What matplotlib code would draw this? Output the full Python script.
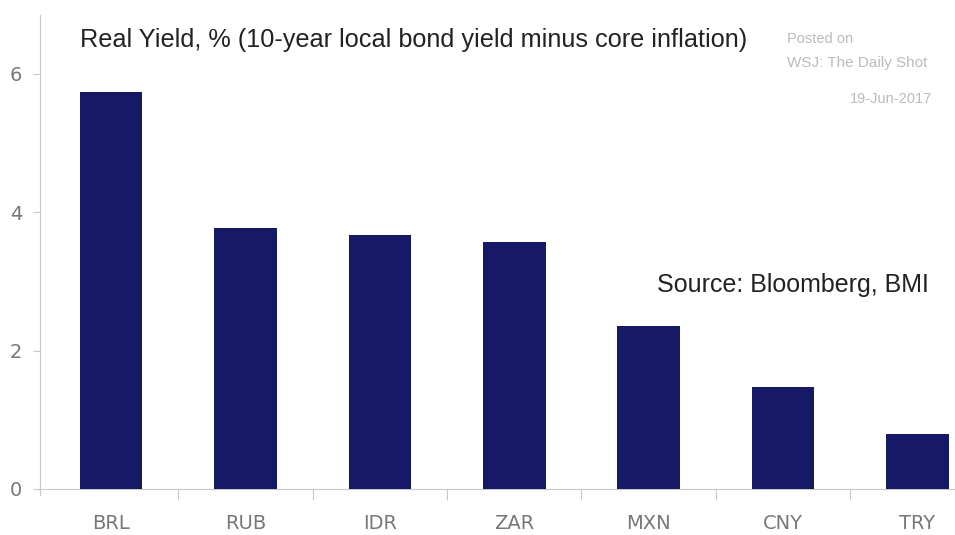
import numpy as np
import matplotlib.pyplot as plt

currencies = ["BRL", "RUB", "IDR", "ZAR", "MXN", "CNY", "TRY"]
real_yield = [5.74, 3.77, 3.67, 3.57, 2.36, 1.47, 0.79]
y_ticks = [0, 2, 4, 6]

bar_color = "#161a66"
grey = "#777777"
line_grey = "#c8c8c8"


def main():
    fig = plt.figure(figsize=(9.55, 5.35), dpi=100)
    ax = fig.add_axes([40 / 955, 1 - 489 / 535, 1 - 40 / 955, (489 - 15) / 535])

    x = np.arange(len(currencies))
    ax.bar(x, real_yield, width=0.465, color=bar_color, zorder=3)

    ax.set_xlim(-0.53, 6.28)
    ax.set_ylim(0, 6.85)

    # spines
    for side in ["top", "right"]:
        ax.spines[side].set_visible(False)
    ax.spines["left"].set_color(line_grey)
    ax.spines["bottom"].set_color(line_grey)
    ax.spines["left"].set_bounds(-0.09, 6.85)

    # y ticks
    ax.set_yticks(y_ticks)
    ax.tick_params(axis="y", length=5, color=line_grey, labelcolor=grey,
                   labelsize=14, pad=8)

    # x ticks between categories, labels at centres
    ax.set_xticks(x[:-1] + 0.5)
    ax.set_xticklabels([])
    ax.tick_params(axis="x", which="major", length=8, color=line_grey)
    ax.set_xticks(x, minor=True)
    ax.set_xticklabels(currencies, minor=True)
    ax.tick_params(axis="x", which="minor", length=0, labelcolor=grey,
                   labelsize=14, pad=18)

    fig.text(80 / 955, 1 - 40 / 535, "Real Yield, % (10-year local bond yield minus core inflation)",
             fontsize=18.2, family="Liberation Sans", color="#222222", va="center", ha="left")
    fig.text(657 / 955, 1 - 285 / 535, "Source: Bloomberg, BMI",
             fontsize=18, family="Liberation Sans", color="#222222", va="center", ha="left")

    fig.text(787 / 955, 1 - 39 / 535, "Posted on", fontsize=10.5, color="#bbbbbb",
             family="Liberation Sans", va="center", ha="left")
    fig.text(787 / 955, 1 - 63 / 535, "WSJ: The Daily Shot", fontsize=11, color="#bbbbbb",
             family="Liberation Sans", va="center", ha="left")
    fig.text(932 / 955, 1 - 99 / 535, "19-Jun-2017", fontsize=10.5, color="#bbbbbb",
             family="Liberation Sans", va="center", ha="right")

    fig.savefig("out.png", dpi=100)


if __name__ == "__main__":
    main()
